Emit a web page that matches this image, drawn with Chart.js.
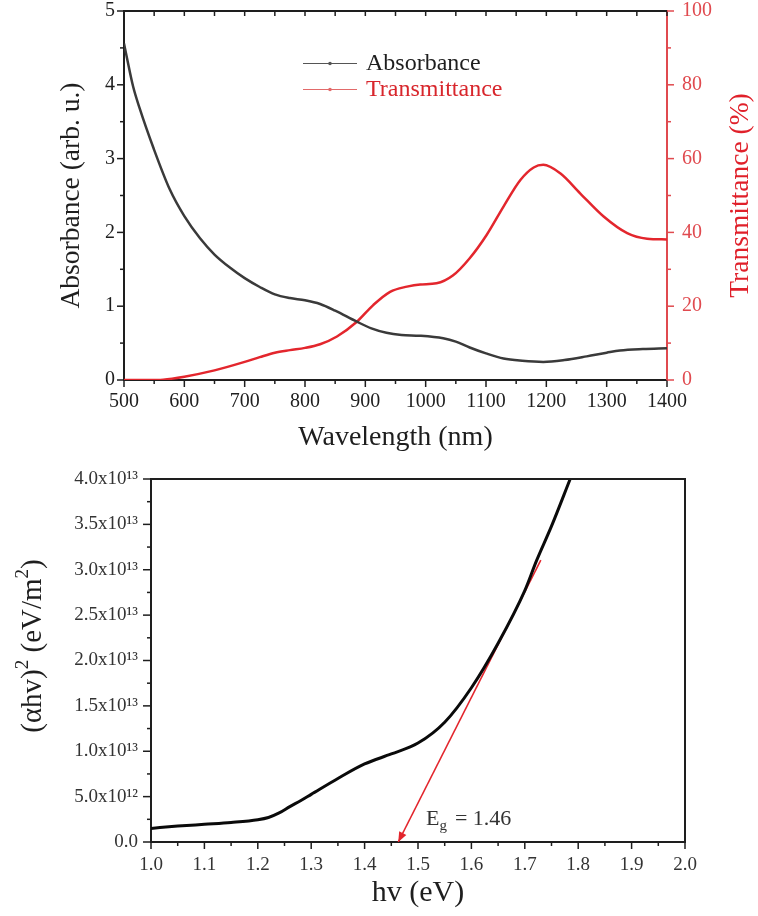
<!DOCTYPE html>
<html><head><meta charset="utf-8">
<script src="https://cdn.jsdelivr.net/npm/chart.js@4.4.1/dist/chart.umd.min.js"></script>
<style>
html,body{margin:0;padding:0;background:#fff;width:758px;height:916px;overflow:hidden;}
#w1{position:absolute;left:0;top:0;width:758px;height:458px;}
#w2{position:absolute;left:0;top:458px;width:758px;height:458px;}
</style></head><body>
<div id="w1"><canvas id="c1"></canvas></div>
<div id="w2"><canvas id="c2"></canvas></div>
<script>
// ---------- Top panel data ----------
const absWavelength = [500,505,515,526,549,576,600,626,650,676,700,725,750,775,800,825,850,886,910,935,960,990,1029,1050,1073,1100,1129,1160,1195,1230,1267,1300,1322,1360,1400];
const absorbance    = [4.56,4.36,3.98,3.68,3.14,2.58,2.22,1.92,1.70,1.52,1.38,1.26,1.16,1.11,1.08,1.03,0.94,0.79,0.70,0.64,0.61,0.60,0.565,0.52,0.44,0.36,0.29,0.26,0.245,0.27,0.32,0.37,0.40,0.42,0.43];
const transWavelength = [500,540,565,600,650,700,725,750,775,800,825,853,886,913,941,969,991,1018,1045,1073,1101,1129,1157,1179,1195,1223,1256,1295,1334,1367,1400];
const transmittance   = [0,0,0.1,0.9,2.6,4.9,6.2,7.4,8.1,8.7,9.7,11.8,15.8,20.3,23.9,25.3,25.9,26.2,28.3,33,39.3,47,54.2,57.6,58.3,56,50.6,44.3,39.8,38.3,38.1];
const wavelengthTicks = [500,600,700,800,900,1000,1100,1200,1300,1400];
const absorbanceTicks = [0,1,2,3,4,5];
const transmittanceTicks = [0,20,40,60,80,100];
const seriesNames = ['Absorbance','Transmittance'];
const topTitles = {x:'Wavelength (nm)', y:'Absorbance (arb. u.)', y1:'Transmittance (%)'};

// ---------- Bottom panel data ----------
const photonEnergy = [1.0,1.05,1.10,1.15,1.20,1.22,1.24,1.26,1.28,1.30,1.35,1.40,1.45,1.50,1.55,1.60,1.65,1.70,1.722,1.75,1.785];
const taucValue    = [0.15e13,0.175e13,0.195e13,0.215e13,0.245e13,0.27e13,0.32e13,0.39e13,0.455e13,0.525e13,0.70e13,0.86e13,0.97e13,1.09e13,1.32e13,1.70e13,2.19e13,2.77e13,3.10e13,3.48e13,4.0e13];
const tangentEnergy = [1.730,1.463];
const tangentValue  = [3.107e13,0];
const energyTicks = [1.0,1.1,1.2,1.3,1.4,1.5,1.6,1.7,1.8,1.9,2.0];
const taucTicks = [0,5e12,1e13,1.5e13,2e13,2.5e13,3e13,3.5e13,4e13];
const taucTickLabels = ['0.0','5.0x10\u00B9\u00B2','1.0x10\u00B9\u00B3','1.5x10\u00B9\u00B3','2.0x10\u00B9\u00B3','2.5x10\u00B9\u00B3','3.0x10\u00B9\u00B3','3.5x10\u00B9\u00B3','4.0x10\u00B9\u00B3'];
const bottomYTitle = [['(\u03B1hv)',false],['2',true],[' (eV/m',false],['2',true],[')',false]];
const gapLabel = {main:'E', sub:'g', rest:'= 1.46', x:1.515, y:0.19e13};

const SERIF = "'Liberation Serif','Times New Roman',serif";
const BLACK = '#1e1e1e';
const RED = '#e3262d';
const RED_AXIS = '#e04a4f';

function zip(xs, ys){ return xs.map((x,i)=>({x:x, y:ys[i]})); }

function drawMinorMajor(chart, specs){
  const ctx = chart.ctx, a = chart.chartArea;
  ctx.save();
  specs.forEach(s=>{
    const sc = chart.scales[s.scale];
    ctx.strokeStyle = s.color; ctx.lineWidth = s.width || 1.5;
    const n = Math.round((s.max - s.min)/s.minor);
    for(let i=0;i<=n;i++){
      const v = s.min + i*s.minor;
      const len = (i % s.ratio === 0) ? s.majorLen : s.minorLen;
      const p = sc.getPixelForValue(v);
      ctx.beginPath();
      if(s.edge==='bottom'){ ctx.moveTo(p,a.bottom); ctx.lineTo(p,a.bottom+len); }
      else if(s.edge==='top'){ ctx.moveTo(p,a.top); ctx.lineTo(p,a.top+len); }
      else if(s.edge==='left'){ ctx.moveTo(a.left,p); ctx.lineTo(a.left-len,p); }
      else if(s.edge==='right'){ ctx.moveTo(a.right,p); ctx.lineTo(a.right+len,p); }
      ctx.stroke();
    }
  });
  ctx.restore();
}

function setTicks(arr){ return function(scale){ scale.ticks = arr.map(v=>({value:v})); }; }
function fixW(w){ return function(s){ s.width = w; s.paddingTop = 0; s.paddingBottom = 0; }; }
function fixH(h){ return function(s){ s.height = h; s.paddingLeft = 0; s.paddingRight = 0; }; }

// ---------- Top chart ----------
const topPlugin = {
  id:'topDecor',
  afterDraw(chart){
    const ctx = chart.ctx, a = chart.chartArea;
    ctx.save();
    ctx.strokeStyle = BLACK; ctx.lineWidth = 2;
    ctx.beginPath(); ctx.moveTo(a.left, a.top); ctx.lineTo(a.right, a.top); ctx.stroke();
    ctx.restore();
    drawMinorMajor(chart, [
      {scale:'x', edge:'bottom', min:500, max:1400, minor:50, ratio:2, majorLen:7, minorLen:4, color:BLACK},
      {scale:'x', edge:'top', min:500, max:1400, minor:50, ratio:2, majorLen:5, minorLen:5, color:BLACK},
      {scale:'y', edge:'left', min:0, max:5, minor:0.5, ratio:2, majorLen:7, minorLen:4, color:BLACK},
      {scale:'y1', edge:'right', min:0, max:100, minor:10, ratio:2, majorLen:7, minorLen:4, color:RED_AXIS}
    ]);
    // right axis title (reads bottom-to-top)
    ctx.save();
    ctx.translate(741, (a.top + a.bottom)/2);
    ctx.rotate(-Math.PI/2);
    ctx.fillStyle = '#e0202a';
    ctx.font = "27.5px " + SERIF;
    ctx.textAlign = 'center'; ctx.textBaseline = 'middle';
    ctx.fillText(topTitles.y1, 0, 0);
    ctx.restore();
    // legend
    const items = [
      {name:seriesNames[0], line:'#555555', text:BLACK, y:a.top+52.5},
      {name:seriesNames[1], line:'#e26a6a', text:'#d8262c', y:a.top+78.5}
    ];
    ctx.save();
    items.forEach(it=>{
      ctx.strokeStyle = it.line; ctx.lineWidth = 1.2;
      ctx.beginPath(); ctx.moveTo(303, it.y); ctx.lineTo(357, it.y); ctx.stroke();
      ctx.fillStyle = it.line;
      ctx.beginPath(); ctx.arc(330, it.y, 1.8, 0, Math.PI*2); ctx.fill();
      ctx.fillStyle = it.text;
      ctx.font = "24px " + SERIF;
      ctx.textBaseline = 'middle'; ctx.textAlign = 'left';
      ctx.fillText(it.name, 366, it.y);
    });
    ctx.restore();
  }
};

new Chart(document.getElementById('c1'), {
  type:'line',
  data:{
    datasets:[
      {label:seriesNames[0], data:zip(absWavelength, absorbance), yAxisID:'y', borderColor:'#3a3a3a', borderWidth:2.5, pointRadius:0, cubicInterpolationMode:'monotone', fill:false},
      {label:seriesNames[1], data:zip(transWavelength, transmittance), yAxisID:'y1', borderColor:RED, borderWidth:2.5, pointRadius:0, cubicInterpolationMode:'monotone', fill:false}
    ]
  },
  options:{
    responsive:true, maintainAspectRatio:false, animation:false, devicePixelRatio:1,
    layout:{padding:{top:11, left:0, right:0, bottom:0}},
    plugins:{legend:{display:false}, tooltip:{enabled:false}},
    scales:{
      x:{type:'linear', position:'bottom', min:500, max:1400,
        afterBuildTicks:setTicks(wavelengthTicks),
        afterFit:fixH(78),
        ticks:{font:{family:SERIF, size:20}, color:BLACK, padding:9.5, maxRotation:0, autoSkip:false, callback:(v)=>String(v)},
        grid:{display:false, drawTicks:false},
        border:{display:true, color:BLACK, width:2},
        title:{display:true, text:topTitles.x, color:BLACK, font:{family:SERIF, size:28}, padding:{top:0, bottom:4}}
      },
      y:{type:'linear', position:'left', min:0, max:5,
        afterBuildTicks:setTicks(absorbanceTicks),
        afterFit:fixW(124),
        ticks:{font:{family:SERIF, size:20}, color:BLACK, padding:9, callback:(v)=>String(v)},
        grid:{display:false, drawTicks:false},
        border:{display:true, color:BLACK, width:2},
        title:{display:true, text:topTitles.y, color:BLACK, font:{family:SERIF, size:27.5}, padding:{top:55, bottom:0}}
      },
      y1:{type:'linear', position:'right', min:0, max:100,
        afterBuildTicks:setTicks(transmittanceTicks),
        afterFit:fixW(91),
        ticks:{font:{family:SERIF, size:20}, color:RED_AXIS, padding:15, callback:(v)=>String(v)},
        grid:{display:false, drawTicks:false},
        border:{display:true, color:RED_AXIS, width:2},
        title:{display:false}
      }
    }
  },
  plugins:[topPlugin]
});

// ---------- Bottom chart ----------
const bottomPlugin = {
  id:'bottomDecor',
  afterDatasetsDraw(chart){
    const ctx = chart.ctx;
    const meta = chart.getDatasetMeta(1);
    const p0 = meta.data[0], p1 = meta.data[1];
    const ang = Math.atan2(p1.y - p0.y, p1.x - p0.x);
    const L = 10, W = 4;
    ctx.save();
    ctx.fillStyle = RED;
    ctx.beginPath();
    ctx.moveTo(p1.x, p1.y);
    ctx.lineTo(p1.x - L*Math.cos(ang) + W*Math.sin(ang), p1.y - L*Math.sin(ang) - W*Math.cos(ang));
    ctx.lineTo(p1.x - L*Math.cos(ang) - W*Math.sin(ang), p1.y - L*Math.sin(ang) + W*Math.cos(ang));
    ctx.closePath(); ctx.fill();
    ctx.restore();
  },
  afterDraw(chart){
    const ctx = chart.ctx, a = chart.chartArea;
    ctx.save();
    ctx.strokeStyle = BLACK; ctx.lineWidth = 2;
    ctx.beginPath(); ctx.moveTo(a.left, a.top); ctx.lineTo(a.right, a.top); ctx.lineTo(a.right, a.bottom); ctx.stroke();
    ctx.restore();
    drawMinorMajor(chart, [
      {scale:'x', edge:'bottom', min:1.0, max:2.0, minor:0.05, ratio:2, majorLen:7, minorLen:4, color:BLACK},
      {scale:'y', edge:'left', min:0, max:4e13, minor:2.5e12, ratio:2, majorLen:8, minorLen:4, color:BLACK}
    ]);
    // y-axis title with superscripts, reads bottom-to-top
    ctx.save();
    const mainF = "29px " + SERIF, supF = "19px " + SERIF;
    let total = 0;
    bottomYTitle.forEach(([t,sup])=>{ ctx.font = sup ? supF : mainF; total += ctx.measureText(t).width; });
    ctx.translate(33, 188);
    ctx.rotate(-Math.PI/2);
    ctx.fillStyle = BLACK; ctx.textAlign = 'left'; ctx.textBaseline = 'middle';
    let cx = -total/2;
    bottomYTitle.forEach(([t,sup])=>{
      ctx.font = sup ? supF : mainF;
      ctx.fillText(t, cx, sup ? -10 : 0);
      cx += ctx.measureText(t).width;
    });
    ctx.restore();
    // Eg label
    const x = chart.scales.x.getPixelForValue(gapLabel.x);
    const y = chart.scales.y.getPixelForValue(gapLabel.y);
    ctx.save();
    ctx.fillStyle = '#333';
    ctx.textBaseline = 'alphabetic'; ctx.textAlign = 'left';
    ctx.font = "22px " + SERIF;
    ctx.fillText(gapLabel.main, x, y);
    let gx = x + ctx.measureText(gapLabel.main).width;
    ctx.font = "15px " + SERIF;
    ctx.fillText(gapLabel.sub, gx, y + 5);
    gx += ctx.measureText(gapLabel.sub).width + 8;
    ctx.font = "22px " + SERIF;
    ctx.fillText(gapLabel.rest, gx, y);
    ctx.restore();
  }
};

new Chart(document.getElementById('c2'), {
  type:'line',
  data:{
    datasets:[
      {label:'(\u03B1hv)\u00B2', data:zip(photonEnergy, taucValue), borderColor:'#0a0a0a', borderWidth:3, pointRadius:0, cubicInterpolationMode:'monotone', fill:false},
      {label:'tangent', data:zip(tangentEnergy, tangentValue), borderColor:RED, borderWidth:1.6, pointRadius:0, tension:0, fill:false}
    ]
  },
  options:{
    responsive:true, maintainAspectRatio:false, animation:false, devicePixelRatio:1,
    layout:{padding:{top:21, left:0, right:73, bottom:0}},
    plugins:{legend:{display:false}, tooltip:{enabled:false}},
    scales:{
      x:{type:'linear', position:'bottom', min:1.0, max:2.0,
        afterBuildTicks:setTicks(energyTicks),
        afterFit:fixH(74),
        ticks:{font:{family:SERIF, size:19}, color:'#333', padding:12, maxRotation:0, autoSkip:false, callback:(v)=>Number(v).toFixed(1)},
        grid:{display:false, drawTicks:false},
        border:{display:true, color:BLACK, width:2},
        title:{display:true, text:'hv (eV)', color:BLACK, font:{family:SERIF, size:30}, padding:{top:0, bottom:5}}
      },
      y:{type:'linear', position:'left', min:0, max:4e13,
        afterBuildTicks:setTicks(taucTicks),
        afterFit:fixW(151),
        ticks:{font:{family:SERIF, size:19}, color:'#333', padding:13, callback:(v, i)=>taucTickLabels[i]},
        grid:{display:false, drawTicks:false},
        border:{display:true, color:BLACK, width:2},
        title:{display:false}
      }
    }
  },
  plugins:[bottomPlugin]
});
</script>
</body></html>
